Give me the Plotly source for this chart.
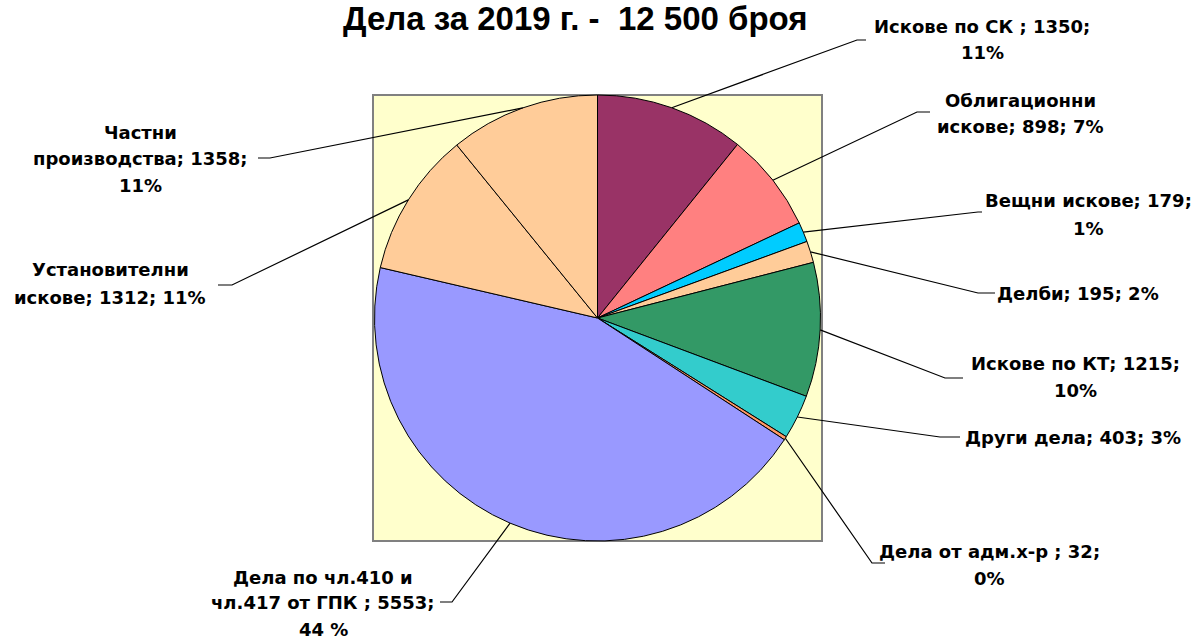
import math
import plotly.graph_objects as go

# ---- data ----
categories = [
    "Искове по СК", "Облигационни искове", "Вещни искове", "Делби",
    "Искове по КТ", "Други дела", "Дела от адм.х-р",
    "Дела по чл.410 и чл.417 от ГПК", "Установителни искове", "Частни производства",
]
values = [1350, 898, 179, 195, 1215, 403, 32, 5553, 1312, 1358]
percents = ["11%", "7%", "1%", "2%", "10%", "3%", "0%", "44 %", "11%", "11%"]
label_lines = [
    ["Искове по СК ; 1350;", "11%"],
    ["Облигационни", "искове; 898; 7%"],
    ["Вещни искове; 179;", "1%"],
    ["Делби; 195; 2%"],
    ["Искове по КТ; 1215;", "10%"],
    ["Други дела; 403; 3%"],
    ["Дела от адм.х-р ; 32;", "0%"],
    ["Дела по чл.410 и", "чл.417 от ГПК ; 5553;", "44 %"],
    ["Установителни", "искове; 1312; 11%"],
    ["Частни", "производства; 1358;", "11%"],
]
colors = ["#993366", "#FF8080", "#00CCFF", "#FFCC99", "#339966",
          "#33CCCC", "#FF9966", "#9999FF", "#FFCC99", "#FFCC99"]
title_text = "Дела за 2019 г. -  12 500 броя"

# ---- layout (pixels) ----
W, H = 1201, 642
box_l, box_r, box_t, box_b = 373, 822, 95, 541
cx = (box_l + box_r) / 2
cy = (box_t + box_b) / 2
R = min(box_r - box_l, box_b - box_t) / 2

# leader elbow (x, y), horizontal end x, text centre x, text line y's
label_pos = [
    ((857, 40), 866, 982, [27, 53]),
    ((917, 112), 930, 1020, [100, 126]),
    ((978, 212), 982, 1088, [200, 228]),
    ((978, 293), 995, 1078, [293]),
    ((945, 378), 963, 1075, [363, 390]),
    ((940, 437), 960, 1073, [437]),
    ((872, 563), 885, 990, [551, 578]),
    ((452, 602), 440, 323, [577, 602, 629]),
    ((232, 285), 218, 110, [270, 298]),
    ((270, 158), 258, 140, [133, 158, 186]),
]

def px(x):
    return x / W

def py(y):
    return 1 - y / H

fig = go.Figure()
fig.add_trace(go.Pie(
    labels=categories, values=values, sort=False, direction="clockwise",
    rotation=0, marker=dict(colors=colors, line=dict(color="black", width=1)),
    textinfo="none", hoverinfo="label+value+percent", showlegend=False,
    domain=dict(x=[px(box_l), px(box_r)], y=[py(box_b), py(box_t)]),
))

shapes = [dict(type="rect", xref="paper", yref="paper",
               x0=px(box_l), x1=px(box_r), y0=py(box_b), y1=py(box_t),
               fillcolor="#FFFFCC", line=dict(color="#808080", width=2),
               layer="below")]
annotations = []
total = sum(values)
cum = 0
for i, v in enumerate(values):
    mid = (cum + v / 2) / total * 2 * math.pi
    cum += v
    sx = cx + R * math.sin(mid)
    sy = cy - R * math.cos(mid)
    (ex, ey), hx, tx, tys = label_pos[i]
    shapes.append(dict(type="path", xref="paper", yref="paper",
                       path=f"M {px(sx)} {py(sy)} L {px(ex)} {py(ey)} L {px(hx)} {py(ey)}",
                       line=dict(color="black", width=1.2), layer="above"))
    for line, ty in zip(label_lines[i], tys):
        annotations.append(dict(x=px(tx), y=py(ty), xref="paper", yref="paper",
                                text=f"<b>{line}</b>", showarrow=False,
                                xanchor="center", yanchor="middle",
                                font=dict(family="DejaVu Sans", size=18, color="black")))

annotations.append(dict(x=px(575), y=py(-2), xref="paper", yref="paper",
                        text=f"<b>{title_text}</b>", showarrow=False,
                        xanchor="center", yanchor="top",
                        font=dict(family="Liberation Sans", size=33, color="black")))

fig.update_layout(width=W, height=H, autosize=False,
                  margin=dict(l=0, r=0, t=0, b=0),
                  paper_bgcolor="white", plot_bgcolor="white",
                  shapes=shapes, annotations=annotations)
fig.write_html("out.html", config={"displayModeBar": False},
               post_script="document.body.style.margin='0';")
